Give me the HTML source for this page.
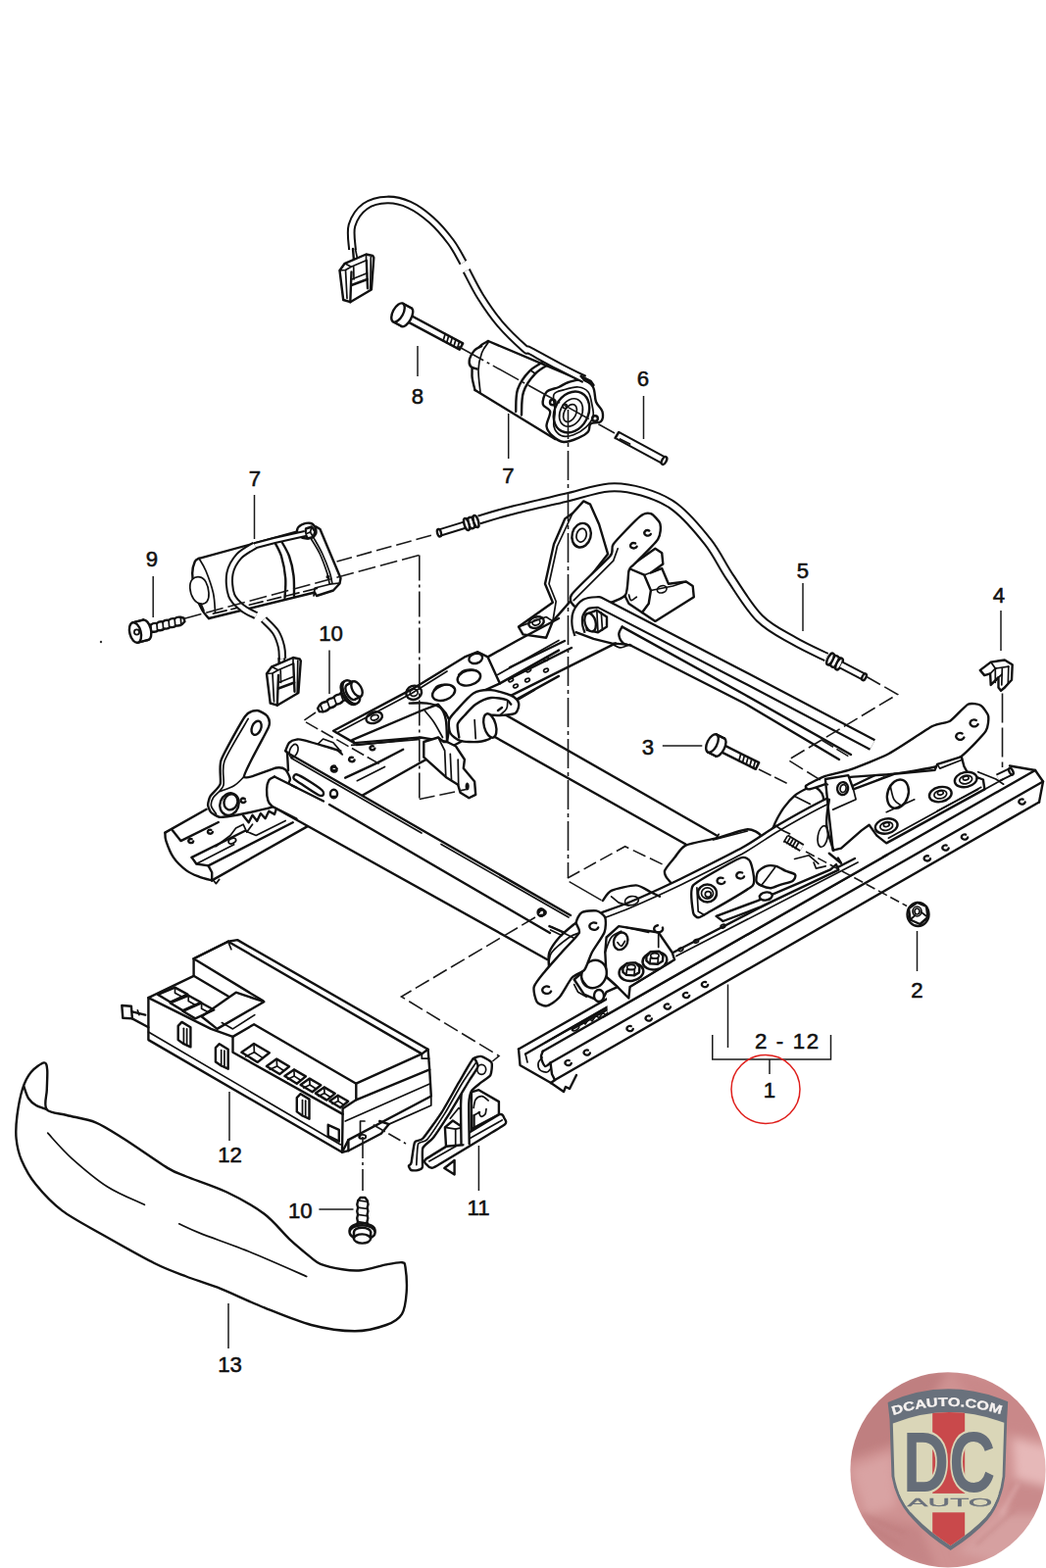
<!DOCTYPE html>
<html><head><meta charset="utf-8">
<style>
html,body{margin:0;padding:0;background:#fff;}
body{width:1067px;height:1600px;overflow:hidden;font-family:"Liberation Sans",sans-serif;}
svg{display:block;position:absolute;left:0;top:0;}
.l{fill:none;stroke:#111;stroke-width:2.4;stroke-linecap:round;stroke-linejoin:round;}
.w{fill:#fff;stroke:#111;stroke-width:2.4;stroke-linecap:round;stroke-linejoin:round;}
.t{fill:none;stroke:#111;stroke-width:1.7;stroke-linecap:round;stroke-linejoin:round;}
.wt{fill:#fff;stroke:#111;stroke-width:1.7;stroke-linecap:round;stroke-linejoin:round;}
.k{fill:#111;stroke:#111;stroke-width:1;stroke-linejoin:round;}
.ld{fill:none;stroke:#1a1a1a;stroke-width:1.5;}
.dd{fill:none;stroke:#1a1a1a;stroke-width:1.6;stroke-dasharray:24 4 3 4;}
.n{font-family:"Liberation Sans",sans-serif;font-size:22.2px;fill:#111;stroke:#111;stroke-width:0.55;text-anchor:middle;}
</style></head>
<body>
<svg width="1067" height="1600" viewBox="0 0 1067 1600">
<rect width="1067" height="1600" fill="#fff"/>
<g>
<defs><clipPath id="lc"><circle cx="967" cy="1499.8" r="99.8"/></clipPath><filter id="bl" x="-20%" y="-20%" width="140%" height="140%"><feGaussianBlur stdDeviation="5"/></filter><filter id="bl2" x="-20%" y="-20%" width="140%" height="140%"><feGaussianBlur stdDeviation="2"/></filter><filter id="bl1"><feGaussianBlur stdDeviation="0.6"/></filter></defs>
<mask id="lm"><circle cx="967" cy="1499.8" r="99.6" fill="#fff" filter="url(#bl1)"/></mask><g mask="url(#lm)">
<rect x="860" y="1395" width="210" height="210" fill="#cf9292"/>
<g filter="url(#bl)">
<path d="M860,1401.6 L968.6,1397.8 L918.2,1471.5 L860,1490.9 Z" fill="#bf7f80"/>
<path d="M968.6,1397.8 L1073.4,1419.1 L1073.4,1467.6 L1015.2,1459.8 Z" fill="#c98889"/>
<path d="M1032.6,1467.6 L1073.4,1477.3 L1073.4,1518 L1035.6,1508.3 Z" fill="#e6b8b8"/>
<path d="M867.8,1498.6 L910.4,1483.1 L914.3,1537.4 L883.3,1545.2 Z" fill="#d9a3a3"/>
<path d="M875.5,1545.2 L937.6,1556.8 L957,1603.4 L889.1,1584 Z" fill="#c58586"/>
<path d="M976.4,1584 L1034.6,1525.8 L1073.4,1525.8 L1054,1603.4 Z" fill="#d6a0a0"/>
<path d="M1030.7,1510.3 L1073.4,1518 L1073.4,1545.2 L1026.8,1545.2 Z" fill="#c98a8b"/>
</g>
<g filter="url(#bl2)" stroke="#b97475" stroke-width="2" fill="none" opacity="0.6">
<path d="M879.4,1545.2 L924,1564.6 M885.2,1556.8 L918.2,1576.2 M995.8,1576.2 L1034.6,1541.3"/>
<path d="M1021,1545.2 L1038.5,1514.2" stroke="#e8bcbc" stroke-width="3"/>
</g>
</g>
<g filter="url(#bl1)">
<path d="M905.6,1431.1 Q965.7,1404 1028.2,1430.2 L1027.2,1448.2 L1025.3,1506.4 Q1022,1533.5 1007.4,1551 Q993.9,1566.5 969.6,1582 Q945.4,1566.5 931.8,1551 Q914.3,1533.5 909.5,1506.4 L907.5,1448.2 Z" fill="#69717b"/>
<path d="M910.8,1452.5 Q966.7,1429.8 1024.3,1451.7 L1022.6,1506.4 Q1019.5,1531.6 1005.5,1548.1 Q991.9,1562.6 969.6,1577.2 Q947.3,1562.6 933.7,1548.1 Q916.6,1531.6 912.4,1506.4 Z" fill="#dad6b8"/>
<clipPath id="ic"><path d="M910.8,1452.5 Q966.7,1429.8 1024.3,1451.7 L1022.6,1506.4 Q1019.5,1531.6 1005.5,1548.1 Q991.9,1562.6 969.6,1577.2 Q947.3,1562.6 933.7,1548.1 Q916.6,1531.6 912.4,1506.4 Z"/></clipPath>
<g clip-path="url(#ic)"><rect x="951.2" y="1428.8" width="32.9777" height="155.189" fill="#c9484c"/></g>
<g clip-path="url(#ic)"><rect x="898.8" y="1523.9" width="139.67" height="19.3986" fill="#dad6b8"/></g>
<text x="921.1" y="1521.9" textLength="94.1" lengthAdjust="spacingAndGlyphs" font-family="Liberation Sans, sans-serif" font-weight="bold" font-size="88" fill="#dad6b8" stroke="#dad6b8" stroke-width="4.5" stroke-linejoin="round">DC</text>
<text x="921.1" y="1521.9" textLength="94.1" lengthAdjust="spacingAndGlyphs" font-family="Liberation Sans, sans-serif" font-weight="bold" font-size="88" fill="#656d78">DC</text>
<text x="925.6" y="1537.4" textLength="86.7119" lengthAdjust="spacingAndGlyphs" font-family="Liberation Sans, sans-serif" font-size="11.5" fill="#6a717b" stroke="#6a717b" stroke-width="0.3">AUTO</text>
<path id="arc" d="M911,1444 Q966.7,1425.5 1023,1444" fill="none"/>
<text font-family="Liberation Sans, sans-serif" font-weight="bold" font-size="12.5" fill="#f6f2f0" stroke="#f6f2f0" stroke-width="0.3" textLength="112" lengthAdjust="spacingAndGlyphs"><textPath href="#arc" textLength="112" lengthAdjust="spacingAndGlyphs">DCAUTO.COM</textPath></text>
</g>
</g>
<g>
<path class="w" d="M529,1070.5 L531,1088 L563,1106 L574,1114 L582,1103 L1060,818.5 L1064,797.5 L1056,786 L1030,780 L760,925 L640,1008Z" style="stroke:none"/>
<path class="l" d="M529,1070.5 L628,1014.2" />
<path class="l" d="M536,1075.5 L630,1021.5" />
<path class="t" d="M556,1064 L640,1016" />
<path class="l" d="M529,1070.5 L530.5,1087 L562,1105" />
<path class="t" d="M536,1075.5 L538,1084" />
<path class="l" d="M553.7,1072.7 C553.4,1073.8 551.6,1076.5 552,1079 C552.4,1081.5 554.4,1087.1 556,1088 C557.6,1088.9 560.6,1085.1 561.5,1084.5" />
<path class="t" d="M553,1079 C552.3,1080.0 549.3,1082.8 549,1085 C548.7,1087.2 549.5,1090.5 551,1092 C552.5,1093.5 556.2,1094.3 558,1094 C559.8,1093.7 561.3,1090.7 562,1090" />
<path class="l" d="M561.5,1084.5 L563,1096 L566,1102" />
<path class="l" d="M562,1105 L566,1102" />
<path class="l" d="M562,1105 L575,1114 L577,1109 L581,1111 L588,1097" />
<path class="l" d="M553.7,1072.7 L1056,786" />
<path class="l" d="M561.5,1084.5 L1064,797.5" />
<path class="l" d="M566,1102 L1060,818.5" />
<path class="l" d="M1056,786 L1064,797.5 L1060,818.5" />
<path class="l" d="M1056,786 L1030,781.5" />
<path class="t" d="M563,1060 L628,1024" />
<path class="l" d="M584,1050 L620,1030" />
<path class="t" d="M590,1047 l4,-5 l3,3 l4,-6 l3,3 l4,-6 l3,3 l4,-6 l3,3 l4,-6" />
<ellipse class="t" cx="587" cy="1049" rx="4" ry="2.2" transform="rotate(-30 587 1049)"/>
<path class="l" d="M582.8,1084.9 A3.2,2.6 0 1 1 580.7,1082.1" />
<path class="l" d="M601.9,1074.4 A3.2,2.6 0 1 1 599.8,1071.6" />
<path class="l" d="M645.8,1049.9 A3.2,2.6 0 1 1 643.7,1047.1" />
<path class="l" d="M664.9,1039.4 A3.2,2.6 0 1 1 662.8,1036.6" />
<path class="l" d="M684.0,1027.4 A3.2,2.6 0 1 1 681.9,1024.6" />
<path class="l" d="M703.2,1015.9 A3.2,2.6 0 1 1 701.1,1013.1" />
<path class="l" d="M722.2,1004.9 A3.2,2.6 0 1 1 720.1,1002.1" />
<path class="l" d="M949.0,876.2 A3.2,2.6 0 1 1 946.9,873.4" />
<path class="l" d="M967.7,865.4 A3.2,2.6 0 1 1 965.6,862.6" />
<path class="l" d="M987.2,854.4 A3.2,2.6 0 1 1 985.1,851.6" />
<path class="l" d="M1045.7,818.4 A3.2,2.6 0 1 1 1043.6,815.6" />
<ellipse class="t" cx="690" cy="968" rx="2.2" ry="1.5" transform="rotate(-30 690 968)"/>
<ellipse class="t" cx="675" cy="977" rx="2.2" ry="1.5" transform="rotate(-30 675 977)"/>
<ellipse class="t" cx="712" cy="960" rx="2.2" ry="1.5" transform="rotate(-30 712 960)"/>
</g>
<g>
<path class="w" d="M168.4,849.6 L210.6,825.8 L330,760 L600,640 L640,660 L430,782 L315.6,842.1 L216.2,898.4 L203.1,894.6 L190,888.1 L176.9,874.9 L169.4,858.1Z" style="stroke:none"/>
<path class="l" d="M168.4,849.6 L210.6,825.8" />
<path class="l" d="M168.4,849.6 C168.6,851.0 168.0,853.9 169.4,858.1 C170.8,862.3 173.5,869.9 176.9,874.9 C180.3,879.9 185.6,884.8 190,888.1 C194.4,891.4 198.7,892.9 203.1,894.6 C207.5,896.3 214.0,897.8 216.2,898.4" />
<path class="l" d="M175.9,847.2 L184.4,858.1 L222.8,839" />
<path class="l" d="M195.6,874.9 L200.3,881.5 L212.5,883.4 L216.2,890.3 L216.2,898.4" />
<path class="l" d="M195.6,874.9 L250,847.8" />
<path class="t" d="M200.3,881.5 L238.7,861.8" />
<path class="l" d="M212.5,883.4 L298.7,839.3" />
<path class="l" d="M216.2,898.4 L315.6,842.1 L431,777" />
<path class="t" d="M217.2,897.8 L220.4,901.6 L223.7,897.4" />
<path class="l" d="M197.2,858.4 A2.5,2.0 0 1 1 195.6,856.2" />
<path class="l" d="M216.9,849.0 A2.5,2.0 0 1 1 215.3,846.8" />
<path class="l" d="M248.1,832.2 L253.7,839.3 L257.5,831.8 L262.2,837.8 L265.9,830 L270.6,835.2 L274.3,827.7 L280,830.9 L282.2,824.7" />
<path class="t" d="M220,863.7 L235,852.5 L240.6,845 L248.1,841.2 L251.8,849.1 L257.5,841.2" />
<ellipse class="t" cx="236.9" cy="858.1" rx="4" ry="2.5" transform="rotate(-25 236.9 858.1)"/>
<path class="t" d="M250,847.8 L261.2,852.5 L291.2,837.5" />
<path class="l" d="M352.2,793.7 L385,778.4 L411.2,764.7" />
<path class="t" d="M364.3,796.7 L392.5,782.5" />
<path class="t" d="M358.7,760.4 L426.2,754.7" />
<path class="l" d="M431,777 L470,757" />
<path class="l" d="M520,681 L576,654" />
<path class="l" d="M520,692.4 L583,661" />
<path class="l" d="M520,710.4 L628,656.4" />
<path class="l" d="M528,714 L545,704" />
<ellipse class="t" cx="526" cy="700" rx="2.5" ry="1.6" transform="rotate(-28 526 700)"/>
<ellipse class="t" cx="538" cy="694" rx="2.5" ry="1.6" transform="rotate(-28 538 694)"/>
<ellipse class="t" cx="557" cy="684" rx="2.5" ry="1.6" transform="rotate(-28 557 684)"/>
<path class="w" d="M646,575.5 L668.4,559.7 L675.2,564.2 L676.3,575.5 L663.9,584.5 L675.2,580 L681.9,595.7 L699.9,593.5 L706.7,598 L707.8,609.2 L668.4,633.9 L655,625 L641.5,616 L637,607 L641.5,580Z" />
<path class="l" d="M641.5,580 L657.2,586.7 L663.9,602.5 L661.7,616 L655,625" />
<path class="t" d="M663.9,602.5 L686.4,598 L699.9,593.5" />
<path class="t" d="M657.2,586.7 L675.2,580" />
<ellipse class="t" cx="675.2" cy="601.3" rx="5" ry="3.5" transform="rotate(-20 675.2 601.3)"/>
<path class="t" d="M641.5,607 C641.9,607.9 642.4,612.2 643.7,612.6 C645.0,613.0 648.4,609.8 649.3,609.2" />
<path class="w" d="M584.1,523.7 L595.3,511.4 L602.1,514.7 L611.1,535 L620.1,565.3 L587.5,607 L563.9,633.9 L557.1,650.8 L533.5,647.4 L529,639.6 L563.9,614.8 L556,595.7 L565,555.2 L576.2,529.4Z" />
<path class="t" d="M584.1,523.7 L578.9,535 L568.4,557.5 L560,595.7 L567.2,613.7 L563.9,633.9" />
<ellipse class="l" cx="593.1" cy="546.2" rx="9.5" ry="12.5" transform="rotate(15 593.1 546.2)"/>
<ellipse class="t" cx="593.1" cy="546.2" rx="5" ry="7" transform="rotate(15 593.1 546.2)"/>
<ellipse class="l" cx="547" cy="635.1" rx="8" ry="5.5" transform="rotate(-20 547 635.1)"/>
<ellipse class="t" cx="547" cy="635.1" rx="4" ry="2.8" transform="rotate(-20 547 635.1)"/>
<path class="t" d="M529,639.6 L557.1,629.5 L563.9,633.9" />
<path class="w" d="M583,607 C586.8,600.8 617.3,573.6 622.3,567.6 C627.3,561.6 622.2,559.9 625.7,555.2 C629.2,550.5 648.2,530.7 652.7,527.1 C657.2,523.5 661.5,523.3 663.9,524.2 C666.3,525.1 672.6,531.5 673.4,534.5 C674.2,537.5 674.2,545.5 671.1,550.3 C668.0,555.1 650.6,571.8 647.1,575.5 C643.6,579.2 642.5,578.5 641.5,582.2 C640.5,585.9 640.7,603.1 638.1,607 C635.5,610.9 624.6,614.4 619,616 C613.4,617.6 593.9,621.5 589.7,620.5 C585.5,619.5 579.2,613.2 583,607Z" />
<path class="l" d="M663.8,544.9 A3.4,2.7 0 1 1 662.3,541.6" />
<path class="l" d="M649.6,557.7 A3.4,2.7 0 1 1 648.1,554.4" />
<path class="t" d="M585.2,612.6 L625.7,572.1 L630.2,559.7" />
<path d="M488.6,530.4 C493.8,528.9 505.4,525.1 520,521.4 C534.6,517.7 559.3,512.0 576.2,508 C593.1,504.0 608.1,498.4 621.2,497.4 C634.3,496.3 643.8,498.4 655,501.7 C666.2,505.0 677.5,508.8 688.7,517.4 C699.9,526.0 713.0,541.4 722.4,553.4 C731.8,565.4 736.1,576.5 744.9,589.4 C753.7,602.3 764.1,620.2 775,631 C785.9,641.8 798.7,647.4 810,654 C821.3,660.6 837.5,667.8 843,670.5" fill="none" stroke="#111" stroke-width="10.025" stroke-linecap="butt" stroke-linejoin="round"/>
<path d="M488.6,530.4 C493.8,528.9 505.4,525.1 520,521.4 C534.6,517.7 559.3,512.0 576.2,508 C593.1,504.0 608.1,498.4 621.2,497.4 C634.3,496.3 643.8,498.4 655,501.7 C666.2,505.0 677.5,508.8 688.7,517.4 C699.9,526.0 713.0,541.4 722.4,553.4 C731.8,565.4 736.1,576.5 744.9,589.4 C753.7,602.3 764.1,620.2 775,631 C785.9,641.8 798.7,647.4 810,654 C821.3,660.6 837.5,667.8 843,670.5" fill="none" stroke="#fff" stroke-width="5.975" stroke-linecap="butt" stroke-linejoin="round"/>
<path d="M448,543.7 L474,535.7" fill="none" stroke="#111" stroke-width="8.29" stroke-linecap="butt" stroke-linejoin="round"/>
<path d="M448,543.7 L474,535.7" fill="none" stroke="#fff" stroke-width="4.51" stroke-linecap="butt" stroke-linejoin="round"/>
<ellipse class="w" cx="448" cy="543.7" rx="1.9" ry="3.8" transform="rotate(-15 448 543.7)"/>
<path d="M476,535 L485.5,532" fill="none" stroke="#111" stroke-width="13.025" stroke-linecap="butt" stroke-linejoin="round"/>
<path d="M476,535 L485.5,532" fill="none" stroke="#fff" stroke-width="8.975" stroke-linecap="butt" stroke-linejoin="round"/>
<ellipse class="w" cx="476" cy="535" rx="2.4" ry="6.3" transform="rotate(-17 476 535)"/>
<ellipse class="w" cx="485.5" cy="532" rx="2.4" ry="6.3" transform="rotate(-17 485.5 532)"/>
<ellipse class="t" cx="480.7" cy="533.5" rx="2.4" ry="6.3" transform="rotate(-17 480.7 533.5)"/>
<path d="M847,672.5 L856,677.5" fill="none" stroke="#111" stroke-width="13.525" stroke-linecap="butt" stroke-linejoin="round"/>
<path d="M847,672.5 L856,677.5" fill="none" stroke="#fff" stroke-width="9.475" stroke-linecap="butt" stroke-linejoin="round"/>
<ellipse class="w" cx="847" cy="672.5" rx="2.6" ry="6.5" transform="rotate(27 847 672.5)"/>
<ellipse class="w" cx="856" cy="677.5" rx="2.6" ry="6.5" transform="rotate(27 856 677.5)"/>
<ellipse class="t" cx="851.5" cy="675" rx="2.6" ry="6.5" transform="rotate(27 851.5 675)"/>
<path d="M858,678.5 L881,690.5" fill="none" stroke="#111" stroke-width="8.29" stroke-linecap="butt" stroke-linejoin="round"/>
<path d="M858,678.5 L881,690.5" fill="none" stroke="#fff" stroke-width="4.51" stroke-linecap="butt" stroke-linejoin="round"/>
<ellipse class="w" cx="881.5" cy="690.8" rx="1.9" ry="3.6" transform="rotate(27 881.5 690.8)"/>
<path class="w" d="M634.7,639.6 L760,708 L868,770 L856,775 L760,718 L643.7,658.7Z" style="stroke:none"/>
<path class="l" d="M634.7,639.6 L760,709 L868,770" />
<path class="l" d="M643.7,658.7 L760,718 L856,775" />
<path class="l" d="M634.7,639.6 C634.1,640.9 631.1,644.6 631.3,647.4 C631.5,650.2 633.7,654.5 635.8,656.4 C637.9,658.3 642.4,658.3 643.7,658.7" />
<path class="l" d="M591.5,647.4 C591.0,645.7 589.1,640.8 588.8,637.3 C588.5,633.8 588.2,629.6 589.7,626.1 C591.2,622.6 594.0,618.4 597.6,616.4 C601.2,614.4 608.9,614.7 611.1,614.4 L760,691.5 L890,760" style="stroke-width:12.8;stroke-linejoin:round;stroke-linecap:butt"/>
<path class="l" d="M591.5,647.4 C591.0,645.7 589.1,640.8 588.8,637.3 C588.5,633.8 588.2,629.6 589.7,626.1 C591.2,622.6 594.0,618.4 597.6,616.4 C601.2,614.4 608.9,614.7 611.1,614.4 L760,691.5 L890,760" style="stroke-width:8.4;stroke:#fff;stroke-linejoin:round;stroke-linecap:butt"/>
<path class="w" d="M597.6,627.2 L608.8,622.7 L619,629.5 L619,639.6 L610,645.2 L598.7,642.9Z" />
<ellipse class="w" cx="602.1" cy="635.1" rx="5.5" ry="9.5" transform="rotate(-15 602.1 635.1)"/>
<path class="t" d="M608.8,622.7 L610,645.2" />
<path class="t" d="M613.3,625 L614.5,642.9" />
<path class="l" d="M587.5,645.2 L605.5,651.9 L623.5,656.4 L639.2,657.6" />
<path class="t" d="M623.5,656.4 C625.0,657.1 629.3,660.7 632.5,660.9 C635.7,661.1 640.9,658.1 642.6,657.6" />
<path class="w" d="M340.1,745.7 L420,703.4 L473.9,670.4 L487.4,665.2 L497.6,670.4 L509.9,697.4 L487.4,707.5 L465,730 L459.3,736.7 L456,757 L429,752.5 L361.5,758.1Z" />
<path class="t" d="M343.5,748 L420,707.5 L456,685" />
<path class="l" d="M361.5,758.1 L359.2,755.2 L429,725.5 L447,718.7 L454.8,727.7 L459.3,736.7" />
<path class="t" d="M363.7,760.3 L397.5,757 L415.5,754.7" />
<ellipse class="l" cx="381.7" cy="732.2" rx="8.5" ry="5.5" transform="rotate(-20 381.7 732.2)"/>
<ellipse class="t" cx="382.2" cy="732.2" rx="4" ry="2.6" transform="rotate(-20 382.2 732.2)"/>
<ellipse class="l" cx="422.2" cy="706.8" rx="8" ry="7" transform="rotate(-20 422.2 706.8)"/>
<ellipse class="t" cx="422.2" cy="706.8" rx="4" ry="3.5" transform="rotate(-20 422.2 706.8)"/>
<ellipse class="l" cx="452.6" cy="706.8" rx="12" ry="7.5" transform="rotate(-20 452.6 706.8)"/>
<ellipse class="l" cx="478.4" cy="691.7" rx="12" ry="7.5" transform="rotate(-15 478.4 691.7)"/>
<ellipse class="l" cx="485.2" cy="671.9" rx="7" ry="5" transform="rotate(-15 485.2 671.9)"/>
<path class="t" d="M442.5,704.1 C443.2,703.4 444.4,700.5 447,699.6 C449.6,698.7 455.4,698.3 458.2,698.9 C461.0,699.5 462.9,702.3 463.8,703" />
<path class="t" d="M467.7,688.4 C468.7,687.6 471.0,684.6 473.9,683.9 C476.8,683.1 482.5,683.1 485.2,683.9 C487.9,684.6 489.3,687.6 490.1,688.4" />
<path class="l" d="M382.4,763.6 A2.5,2.0 0 1 1 380.8,761.4" />
<path class="l" d="M361.6,775.4 A2.8,2.2 0 1 1 359.8,772.9" />
<path class="l" d="M343.8,784.3 A3.0,2.4 0 1 1 341.8,781.6" />
<path class="l" d="M497.6,670.4 L527.9,653.5 L570,631" />
<path class="l" d="M509.9,697.4 L570,663.6" />
<path class="t" d="M507.7,688.4 L570,653.5" />
<path class="l" d="M527.9,713.1 L570,689.9" />
<ellipse class="t" cx="521.2" cy="694" rx="2.5" ry="1.5" transform="rotate(-28 521.2 694)"/>
<ellipse class="t" cx="539.2" cy="683.9" rx="2.5" ry="1.5" transform="rotate(-28 539.2 683.9)"/>
<ellipse class="t" cx="557.2" cy="672.6" rx="2.5" ry="1.5" transform="rotate(-28 557.2 672.6)"/>
<path class="w" d="M432.3,757 L447,752.5 L452.6,757 L456,757 L465,761.5 L473.9,775 L472.8,783.9 L484.1,797.4 L485.2,810.9 L478.4,814.3 L469.5,808.7 L467.2,800.8 L454.8,792.9 L432.3,772.7Z" />
<path class="t" d="M447,752.5 L453.7,766 L454.8,792.9" />
<path class="t" d="M459.3,769.3 L460.5,795.2" />
<path class="t" d="M467.2,775 L467.7,800.8" />
<ellipse class="k" cx="476.6" cy="802.4" rx="1.6" ry="3.5" transform="rotate(0 476.6 802.4)"/>
<path class="t" d="M433.5,725.5 C435.0,727.4 439.5,732.2 442.5,736.7 C445.5,741.2 450.0,749.9 451.5,752.5" />
<path class="l" d="M417.7,717.6 C420.7,717.6 430.4,716.9 435.7,717.6 C440.9,718.4 446.0,719.3 449.2,722.1 C452.4,724.9 453.7,728.7 454.8,734.5 C455.9,740.3 455.8,753.2 456,757" />
<path class="w" d="M508,725 L731,852.5 L699.5,861.5 L503,751Z" style="stroke:none"/>
<path class="l" d="M508,725 L731,852.5" />
<path class="l" d="M503,751 L699.5,861.5" />
<path class="w" d="M458.2,734.5 C459.0,731.5 461.7,729.1 465,725.5 C468.3,721.9 478.1,710.4 482.9,707.5 C487.7,704.6 495.8,703.8 500.9,704.1 C506.0,704.4 517.4,707.9 521.2,709.7 C525.0,711.5 528.5,715.2 529.1,717.6 C529.7,720.0 528.3,726.0 525.7,727.7 C523.1,729.4 513.6,729.7 509.9,730 C506.2,730.3 499.5,728.8 497.6,730 C495.7,731.2 494.9,736.0 495.3,739 C495.7,742.0 502.0,750.1 500.9,752.5 C499.8,754.9 491.6,756.6 487.4,757 C483.2,757.4 473.2,757.0 469.5,755.8 C465.8,754.6 460.8,750.8 459.3,748 C457.8,745.2 457.4,737.5 458.2,734.5Z" />
<path class="l" d="M468.3,752.5 C468.1,750.7 466.1,742.0 466.8,739 C467.5,736.0 471.4,732.7 473.9,730 C476.4,727.3 481.6,721.1 485.2,718.7 C488.8,716.3 496.7,712.6 500.9,712 C505.1,711.4 514.0,713.3 516.7,714.2 C519.4,715.1 520.6,718.1 521.2,718.7" />
<path class="t" d="M509.9,730 C511.0,728.9 515.4,725.7 516.7,723.2 C518.0,720.8 517.6,716.6 517.8,715.3" />
<path class="t" d="M484.1,734.5 L485.2,753.6" />
<ellipse class="w" cx="499.8" cy="740.5" rx="6" ry="12.5" transform="rotate(-15 499.8 740.5)"/>
<path class="l" d="M508,725 L512,722" />
<path class="w" d="M681.5,897.4 C679.5,895.8 677.3,891.0 678.1,888.4 C678.9,885.8 685.7,878.0 688.2,875 C690.7,872.0 694.5,864.9 699.5,862.6 C704.5,860.3 723.6,857.1 730.9,855.2 C738.2,853.3 757.1,846.5 762.4,846.2 C767.6,845.9 774.9,850.2 775.9,852.5 C776.9,854.8 780.8,860.2 771.4,866 C762.0,871.8 705.5,898.2 695,901.9 C684.5,905.6 683.5,899.0 681.5,897.4Z" />
<path class="t" d="M730.9,855.2 L733.2,851.3" />
<path class="t" d="M727.6,857 L762.4,848" />
<path class="w" d="M293,768 L582,934 L570,965 L558,979 L277,822.5 L272.1,805.6 L280,792.5 L294,785Z" style="stroke:none"/>
<path class="l" d="M293,768 L582,934" />
<path class="t" d="M297,773.5 L430,850" />
<path class="t" d="M450,861.5 L580,936" />
<path class="l" d="M293,768 L294,786" />
<path class="l" d="M280,792.5 L330,817.5" />
<path class="l" d="M336,821 L561,952" />
<path class="l" d="M277.2,822.5 L558,979" />
<path class="l" d="M280,792.5 C279.1,793.1 275.6,794.0 274.3,796.2 C273.0,798.4 272.2,802.2 272.1,805.6 C272.0,809.0 272.5,814.0 273.4,816.8 C274.2,819.6 276.6,821.5 277.2,822.5" />
<path class="l" d="M302.5,790.2 C304.6,790.6 312.1,795.0 315.6,797.2 C319.1,799.4 326.8,804.6 328.7,806.5 C330.6,808.4 330.1,810.6 329.6,811.2 C329.1,811.8 327.5,812.5 324.9,811.2 C322.3,809.9 313.4,804.1 310,801.8 C306.6,799.5 300.6,795.8 299.6,794.3 C298.6,792.8 300.4,789.8 302.5,790.2Z" />
<ellipse class="l" cx="340.5" cy="810" rx="3.6" ry="4.2" transform="rotate(0 340.5 810)"/>
<path class="t" d="M338.5,812.5 L342.5,812.5" />
<ellipse class="l" cx="552" cy="931" rx="3.4" ry="3.8" transform="rotate(0 552 931)"/>
<path class="t" d="M563,946 L585,957" />
<path class="w" d="M250,731 C253.7,725.9 259.9,725.0 262.2,725 C264.4,725.0 271.3,728.9 272.5,730.6 C273.7,732.3 276.4,735.7 274,741.9 C271.6,748.1 248.2,788.3 249,792.5 C249.8,796.7 277.6,784.2 281.8,783.5 C286.0,782.8 289.8,784.2 291.2,785.4 C292.6,786.6 296.1,793.1 295.9,795.3 C295.7,797.5 290.9,804.8 289.3,807.5 C287.7,810.2 283.9,820.2 280,822.5 C276.1,824.8 254.5,829.0 250,830 C245.5,831.0 237.6,832.4 235,832.8 C232.4,833.2 225.7,834.1 223.7,833.7 C221.7,833.3 216.5,830.2 215.3,829 C214.1,827.8 212.2,823.2 212.1,821.5 C212.0,819.8 213.4,814.4 214.7,812.2 C216.0,810.1 223.6,803.7 224.7,800 C225.8,796.3 223.1,782.5 225.6,775.6 C228.1,768.7 246.3,736.1 250,731Z" />
<path class="w" d="M280,792.5 C277.9,792.1 275.1,794.9 274.3,796.2 C273.5,797.5 272.2,803.5 272.1,805.6 C272.0,807.7 272.9,815.1 273.4,816.8 C273.9,818.5 275.4,821.2 277.2,822.5 C279.0,823.8 288.7,830.8 291.2,830 C293.7,829.2 302.1,818.0 302.5,815 C302.9,812.0 297.2,802.2 295,800 C292.8,797.8 282.1,792.9 280,792.5Z" style="stroke:none"/>
<path class="l" d="M280,792.5 C279.1,793.1 275.6,794.0 274.3,796.2 C273.0,798.4 272.2,802.2 272.1,805.6 C272.0,809.0 272.5,814.0 273.4,816.8 C274.2,819.6 276.6,821.5 277.2,822.5" />
<path class="l" d="M280,792.5 L302.5,803.7" />
<path class="l" d="M277.2,822.5 L302.5,835.6" />
<path class="t" d="M253.2,733.4 C250.0,739.1 232.4,767.4 229,776.5 C225.6,785.6 229.4,796.5 227.9,801.5 C226.4,806.5 219.2,811.2 217.5,814 C215.8,816.8 215.1,820.3 215.5,822.5 C215.9,824.7 219.7,829.3 220.4,830.3" />
<ellipse class="l" cx="261.6" cy="742.8" rx="4.6" ry="7.4" transform="rotate(22 261.6 742.8)"/>
<ellipse class="l" cx="234" cy="820.6" rx="9.5" ry="11.5" transform="rotate(20 234 820.6)"/>
<ellipse class="l" cx="235.4" cy="818.3" rx="6.8" ry="8.2" transform="rotate(20 235.4 818.3)"/>
<path class="t" d="M224.7,807.5 C227.0,806.5 234.6,804.3 238.7,801.8 C242.8,799.3 247.3,794.0 249,792.5" />
<path class="l" d="M250.4,817.8 A2.6,2.1 0 1 1 249.8,815.2" />
<path class="l" d="M291.2,766.2 C291.7,765.1 293.5,759.3 295,757.8 C296.5,756.3 300.5,754.9 302.5,754.6 C304.5,754.3 304.0,753.9 310,755.4 C316.0,756.9 342.4,764.8 347.4,766.2" />
<path class="l" d="M291.2,766.2 L293.5,768.1" />
<ellipse class="t" cx="299.6" cy="766.2" rx="4" ry="7" transform="rotate(20 299.6 766.2)"/>
<path class="t" d="M324.9,758.7 L329.6,754 L339.9,757.8 L345.6,764.4 L349.3,770 L344.6,766.2" />
<path class="l" d="M343.5,786.2 A3.0,2.4 0 1 1 342.8,783.2" />
<path class="w" d="M786.2,854.5 C780.1,854.7 788.2,846.2 789.1,843.6 C790.0,841.0 791.6,837.6 793,835 C794.4,832.4 797.3,827.2 799.6,824.1 C801.9,821.0 807.7,814.4 810.6,811.9 C813.5,809.4 818.9,806.6 821.5,805.3 C824.1,804.0 827.7,801.4 830.1,802.4 C832.5,803.4 839.2,807.8 839.8,813.1 C840.4,818.4 842.0,836.8 834.9,842.3 C827.8,847.8 792.3,854.3 786.2,854.5Z" />
<path class="t" d="M810.6,812.6 L826.4,820.4" />
<path class="w" d="M614,931 L640,921.5 L688.7,899.5 L757,865 L791,843.5 L835,819 L900,787.5 L900,875 L620,1034.9Z" style="stroke:none"/>
<path class="l" d="M614,931 C616.6,930.0 632.5,924.6 640,921.5 C647.5,918.4 677.0,905.1 688.7,899.5 C700.4,893.9 746.8,870.6 757,865 C767.2,859.4 783.2,848.1 791,843.5 C798.8,838.9 824.1,824.6 835,819 C845.9,813.4 893.5,790.6 900,787.5" />
<path class="l" d="M615,1037.7 L905,872.2" />
<path class="t" d="M618,936 C620.4,935.1 634.3,930.1 641.5,927 C648.7,923.9 678.5,910.6 690.2,905 C701.9,899.4 748.3,876.1 758.5,870.5 C768.7,864.9 784.7,853.6 792.5,849 C800.3,844.4 825.6,830.1 836.5,824.5 C847.4,818.9 895.0,796.1 901.5,793" />
<path class="l" d="M687,971.7 L872,876" />
<path class="t" d="M690,975.5 L875,880" />
<path class="l" d="M614.8,919.1 C615.8,917.9 619.6,910.7 623.6,908.9 C627.6,907.1 644.2,903.2 648.9,903.4 C653.6,903.6 661.3,909.2 664.1,910.5 C666.9,911.8 672.0,914.3 673,914.8" />
<ellipse class="t" cx="644.4" cy="919.1" rx="7" ry="4.5" transform="rotate(-10 644.4 919.1)"/>
<path class="t" d="M623.6,914.8 L631.2,921.1 L641.3,924.1" />
<path class="w" d="M822.5,801.5 C824.2,800.1 837.4,793.5 841.9,791.9 C846.4,790.3 861.4,787.4 867.9,785.1 C874.4,782.8 898.5,773.4 906.8,769 C915.1,764.6 944.8,744.3 951,741 C957.2,737.7 965.5,738.0 969.1,735.8 C972.7,733.6 984.2,720.3 987.3,718.7 C990.4,717.1 998.2,718.5 1000.3,719.7 C1002.4,720.9 1007.6,728.0 1008.1,730.6 C1008.6,733.2 1008.2,742.1 1005.5,746.2 C1002.8,750.3 985.7,768.0 980.8,771.6 C975.9,775.2 963.0,780.2 956.1,782 C949.2,783.8 920.8,788.7 912,789.8 C903.2,790.9 874.9,791.9 867.9,792.9 C860.9,793.9 846.2,799.0 841.9,800.2 C837.6,801.5 826.9,805.3 825,805.4 C823.1,805.5 820.8,802.9 822.5,801.5Z" />
<path class="l" d="M997.7,739.0 A4.2,3.4 0 1 1 995.9,735.0" />
<path class="l" d="M983.4,752.5 A4.2,3.4 0 1 1 981.6,748.5" />
<path class="w" d="M841.9,795 L865.3,791.1 L870.5,805.4 L912,789.8 L953.6,785.9 L956.1,779.9 L980.8,772.1 L983.4,782 L987.8,789.8 L1002.9,795.5 L1004.4,805.4 L904.2,860.4 L894.4,852.6 L886.6,841.7 L878.8,847.4 L858,865.6 L849.7,867.7 L845,826.1Z" />
<path class="t" d="M956.1,779.9 L958.7,784.1 L980.8,775.5" />
<path class="t" d="M870.5,805.4 L873.1,815.8 L849.7,826.1" />
<path class="t" d="M906.3,855.2 L1000.8,803.3" />
<path class="t" d="M904.2,828.7 L932.8,815.8" />
<path class="t" d="M956.1,827.4 L997.7,805.4" />
<ellipse class="l" cx="915.9" cy="810.1" rx="10.5" ry="15" transform="rotate(18 915.9 810.1)"/>
<path class="t" d="M908.1,801.5 C908.8,803.9 910.0,812.3 912,815.8 C914.0,819.3 918.5,821.2 919.8,822.3" />
<ellipse class="l" cx="859.6" cy="804.6" rx="5.5" ry="6.5" transform="rotate(10 859.6 804.6)"/>
<ellipse class="t" cx="860.1" cy="804.6" rx="3" ry="4" transform="rotate(10 860.1 804.6)"/>
<ellipse class="w" cx="959.3" cy="810.6" rx="11.5" ry="7.5" transform="rotate(-12 959.3 810.6)"/>
<ellipse class="t" cx="959.3" cy="810.6" rx="6.5" ry="4.2" transform="rotate(-12 959.3 810.6)"/>
<ellipse class="t" cx="959.3" cy="809.1" rx="3" ry="2" transform="rotate(-12 959.3 809.1)"/>
<ellipse class="w" cx="985.2" cy="795.5" rx="11.5" ry="7.5" transform="rotate(-12 985.2 795.5)"/>
<ellipse class="t" cx="985.2" cy="795.5" rx="6.5" ry="4.2" transform="rotate(-12 985.2 795.5)"/>
<ellipse class="t" cx="985.2" cy="794" rx="3" ry="2" transform="rotate(-12 985.2 794)"/>
<ellipse class="w" cx="904.2" cy="843" rx="11.5" ry="7.5" transform="rotate(-12 904.2 843)"/>
<ellipse class="t" cx="904.2" cy="843" rx="6.5" ry="4.2" transform="rotate(-12 904.2 843)"/>
<ellipse class="t" cx="904.2" cy="841.5" rx="3" ry="2" transform="rotate(-12 904.2 841.5)"/>
<path d="M1017.9,793.7 L1031.4,787.2" fill="none" stroke="#111" stroke-width="8.89" stroke-linecap="butt" stroke-linejoin="round"/>
<path d="M1017.9,793.7 L1031.4,787.2" fill="none" stroke="#fff" stroke-width="5.11" stroke-linecap="butt" stroke-linejoin="round"/>
<ellipse class="w" cx="1031.4" cy="787.2" rx="1.8" ry="3.6" transform="rotate(-27 1031.4 787.2)"/>
<path class="t" d="M997.7,787.7 L1015.9,795 L1023.6,800.2" />
<path class="t" d="M1004.4,805.4 L1023.6,795" />
<path d="M801.7,855.2 L818,865.1" fill="none" stroke="#111" stroke-width="8.89" stroke-linecap="butt" stroke-linejoin="round"/>
<path d="M801.7,855.2 L818,865.1" fill="none" stroke="#fff" stroke-width="5.11" stroke-linecap="butt" stroke-linejoin="round"/>
<path class="t" d="M803,853.4 L799.8,858.9" />
<path class="t" d="M805.8,855.1 L802.6,860.6" />
<path class="t" d="M808.7,856.8 L805.5,862.3" />
<path class="t" d="M811.5,858.5 L808.3,864" />
<path class="t" d="M814.4,860.2 L811.2,865.7" />
<path class="t" d="M790,841.7 C791.3,842.6 795.2,845.4 797.8,846.9 C800.4,848.4 804.3,850.1 805.6,850.8" />
<ellipse class="t" cx="839.3" cy="853.4" rx="5" ry="11" transform="rotate(10 839.3 853.4)"/>
<path class="l" d="M845.8,815.8 C845.4,820.1 842.5,833.1 843.2,841.7 C843.9,850.4 849.0,863.4 850.2,867.7" />
<path class="l" d="M845.8,870.8 L858,880.7 L854.9,875.5" />
<path class="w" d="M707.1,903.4 C711.1,898.8 750.4,877.5 755.2,875.5 C760.1,873.5 764.2,877.0 765.3,879.3 C766.4,881.6 771.5,899.1 767.9,903.4 C764.3,907.7 726.9,928.5 722.3,931.2 C717.7,933.9 713.5,936.3 712.2,936.3 C710.9,936.3 707.5,933.9 707.1,931.2 C706.7,928.5 703.1,908.0 707.1,903.4Z" />
<path class="t" d="M710.9,905.9 L712.2,929.9 L718.5,933.7" />
<ellipse class="l" cx="721.5" cy="911.5" rx="9.5" ry="9" transform="rotate(0 721.5 911.5)"/>
<ellipse class="t" cx="721.5" cy="911.5" rx="6" ry="5.6" transform="rotate(0 721.5 911.5)"/>
<ellipse class="t" cx="722.3" cy="912.5" rx="3" ry="2.8" transform="rotate(0 722.3 912.5)"/>
<path class="l" d="M739.3,899.9 A4.0,3.2 0 1 1 737.5,896.0" />
<path class="l" d="M759.0,894.4 A4.0,3.2 0 1 1 757.2,890.5" />
<path class="w" d="M730.6,934.9 L772.8,919.1 L847.1,887.4 L853,882.1 L855.4,887.7 L776.5,925.2 L737.5,940Z" />
<path class="w" d="M771.6,899.6 C771.1,897.8 771.7,892.0 773,889.9 C774.3,887.8 778.8,884.6 781.3,883.8 C783.8,883.0 788.9,883.2 791.6,883.8 C794.3,884.4 798.7,887.4 801.3,888.6 C803.9,889.8 810.1,891.1 811.1,892.5 C812.1,893.9 810.6,897.5 808.6,898.9 C806.6,900.3 798.9,901.8 795.9,902.8 C792.9,903.8 788.8,906.1 786.2,906.2 C783.6,906.3 778.4,904.6 776.5,903.7 C774.6,902.8 772.1,901.4 771.6,899.6Z" />
<path class="t" d="M776.5,903.7 C777.5,902.4 780.0,899.2 782.5,895.9 C785.0,892.6 790.1,885.8 791.6,883.8" />
<ellipse class="w" cx="781.3" cy="914.5" rx="6.5" ry="4" transform="rotate(-10 781.3 914.5)"/>
<path class="t" d="M810.6,876.5 L825.2,872.8 L834.9,881.3" />
<path class="t" d="M830.1,880.1 L832.5,886.2 L842.2,883.8" />
<path class="w" d="M618.6,956.5 L631.2,945.1 L671.7,951.5 L685.6,971.7 L688.1,979.3 L642.6,1007.1 L641.3,1018.5 L629.9,1007.1 L618.6,997 L617.3,971.7Z" />
<path class="t" d="M642.6,1007.1 L684.4,981.8" />
<path class="t" d="M617.3,971.7 C618.3,969.2 620.9,960.1 623.6,956.5 C626.3,952.9 632.0,951.2 633.7,950.2" />
<ellipse class="l" cx="633.2" cy="960.3" rx="7" ry="9" transform="rotate(20 633.2 960.3)"/>
<path class="t" d="M629.9,961.6 C630.5,962.2 632.4,965.6 633.7,965.4 C635.0,965.2 636.9,961.1 637.5,960.3" />
<path class="t" d="M638.8,946.4 L661.6,951.5" />
<path class="l" d="M675.9,946.5 A4.5,3.6 0 1 1 670.9,944.2" />
<path class="t" d="M671.7,952.7 L671.7,966.6" />
<ellipse class="w" cx="643.9" cy="991.9" rx="12.5" ry="9" transform="rotate(-10 643.9 991.9)"/>
<path class="w" d="M635.4,987.9 L639.4,982.9 L648.4,982.4 L652.4,986.9 L651.9,992.4 L646.9,995.4 L638.9,994.9 L635.4,991.9Z" />
<ellipse class="t" cx="643.9" cy="986.9" rx="4.2" ry="2.6" transform="rotate(0 643.9 986.9)"/>
<path class="t" d="M638.9,994.9 L639.4,989.4 L647.4,989.4 L646.9,995.4" />
<ellipse class="w" cx="667.9" cy="980.3" rx="12.5" ry="9" transform="rotate(-10 667.9 980.3)"/>
<path class="w" d="M659.4,976.3 L663.4,971.3 L672.4,970.8 L676.4,975.3 L675.9,980.8 L670.9,983.8 L662.9,983.3 L659.4,980.3Z" />
<ellipse class="t" cx="667.9" cy="975.3" rx="4.2" ry="2.6" transform="rotate(0 667.9 975.3)"/>
<path class="t" d="M662.9,983.3 L663.4,977.8 L671.4,977.8 L670.9,983.8" />
<ellipse class="t" cx="694.5" cy="968.7" rx="2.4" ry="1.7" transform="rotate(-25 694.5 968.7)"/>
<ellipse class="t" cx="710.2" cy="960.3" rx="2.4" ry="1.7" transform="rotate(-25 710.2 960.3)"/>
<ellipse class="t" cx="737.5" cy="945.1" rx="2.4" ry="1.7" transform="rotate(-25 737.5 945.1)"/>
<path class="w" d="M585.7,999.5 L595.8,1014.7 L613.5,1022.3 L618.6,1012.2 L629.9,1007.1 L618.6,997 L605.9,981.8Z" />
<ellipse class="w" cx="605.9" cy="994" rx="12.5" ry="14.5" transform="rotate(25 605.9 994)"/>
<path class="t" d="M596.3,984.4 C595.8,986.5 592.8,993.2 593.3,997 C593.8,1000.8 598.5,1005.4 599.6,1007.1" />
<ellipse class="w" cx="611" cy="1016" rx="5" ry="6" transform="rotate(0 611 1016)"/>
<path class="t" d="M585.7,1004.6 L589.5,1012.2 L598.3,1017.2" />
<path class="w" d="M593.3,931.2 C595.7,929.8 605.6,928.8 608.4,929.4 C611.2,930.0 616.4,933.7 617.3,936.3 C618.2,938.9 618.1,947.4 616.5,951.5 C614.9,955.6 606.3,967.3 603.9,971.7 C601.5,976.1 598.7,986.4 596.3,989.4 C593.9,992.4 586.6,994.2 583.6,997.5 C580.6,1000.8 573.5,1014.4 570.5,1017.8 C567.5,1021.2 560.5,1025.9 557.8,1026.4 C555.1,1026.9 549.2,1024.6 547.7,1022.3 C546.2,1020.0 543.8,1010.6 544.7,1007.1 C545.6,1003.6 552.0,996.0 555.3,991.9 C558.6,987.8 568.9,976.4 573,971.7 C577.1,967.0 589.0,955.5 590.7,952 C592.4,948.5 587.4,943.7 587.7,941.3 C588.0,938.9 590.9,932.6 593.3,931.2Z" />
<path class="l" d="M610.2,946.4 A4.6,3.7 0 1 1 608.2,941.9" />
<path class="l" d="M562.1,1011.5 A4.6,3.7 0 1 1 560.1,1007.0" />
<path class="t" d="M590.7,952 C589.0,952.8 585.2,953.2 580.6,956.5 C576.0,959.8 566.4,967.1 562.9,971.7 C559.4,976.4 560.4,982.3 559.9,984.4" />
<path class="l" d="M587.7,941.3 C584.8,943.8 575.0,951.4 570.5,956.5 C566.0,961.6 562.2,966.9 560.4,971.7 C558.6,976.6 560.0,983.3 559.9,985.6" />
<path class="l" d="M560.4,945.1 L575.5,951.5" />
<path class="t" d="M561.6,948.9 L573,954.5" />
<path class="l" d="M550.0,930.7 A3.4,2.7 0 1 1 552.1,933.8" />
</g>
<g>
<path class="w" d="M416.516,320.542 L472.198,350.326 L468.802,356.674 L413.12,326.891Z" />
<path class="t" d="M454.138,340.666 L452.065,347.722" />
<path class="t" d="M457.75,342.598 L455.677,349.654" />
<path class="t" d="M461.362,344.53 L459.289,351.586" />
<path class="t" d="M464.974,346.462 L462.901,353.518" />
<path class="t" d="M468.586,348.394 L466.513,355.45" />
<path class="w" d="M410.952,309.741 L419.77,314.458 L409.865,332.975 L401.048,328.259Z" />
<ellipse class="w" cx="414.818" cy="323.717" rx="4.62" ry="10.5" transform="rotate(28.1416 414.818 323.717)"/>
<path d="M410.575,310.447 L419.393,315.163 L410.243,332.27 L401.425,327.553 Z" fill="#fff" stroke="none"/>
<path class="l" d="M410.952,309.741 L419.77,314.458" />
<path class="l" d="M401.048,328.259 L409.865,332.975" />
<ellipse class="w" cx="406" cy="319" rx="5.25" ry="10.5" transform="rotate(28.1416 406 319)"/>
<path class="w" d="M498,348 L593,388.2 L566.2,448 L484.5,398 L484.5,398 C484.0,395.6 481.8,388.9 481.5,383.8 C481.2,378.7 481.8,372.4 483,367.5 C484.2,362.6 486.3,357.4 488.8,354.2 C491.3,350.9 496.5,349.0 498,348Z" style="stroke:none"/>
<path class="l" d="M498,348 L593,388.2" />
<path class="l" d="M484.5,398 L566.2,448" />
<path class="l" d="M484.5,398 C484.0,395.6 481.8,388.9 481.5,383.8 C481.2,378.7 481.8,372.4 483,367.5 C484.2,362.6 486.3,357.4 488.8,354.2 C491.3,350.9 496.5,349.0 498,348" />
<path class="w" d="M491.2,353.2 C490.0,353.9 486.0,355.3 484,357.5 C482.0,359.7 479.7,363.5 479,366.2 C478.3,368.9 478.8,372.1 480,373.8 C481.2,375.5 485.4,376.1 486.5,376.5" />
<path class="t" d="M498,349.5 C496.9,351.2 493.2,355.3 491.5,360 C489.8,364.7 488.2,370.8 488,377.5 C487.8,384.2 489.7,396.7 490,400.5" />
<path class="l" d="M557.5,367.5 C554.6,369.4 544.9,373.8 540,378.8 C535.1,383.8 530.3,390.6 528,397.5 C525.7,404.4 526.5,416.2 526.2,420" />
<path class="l" d="M563,370 C560.2,371.9 551.0,376.2 546.2,381.2 C541.4,386.2 536.4,392.9 534,400 C531.6,407.1 532.3,419.6 532,423.5" />
<path class="t" d="M541.2,378 L546.2,381.2" />
<path class="w" d="M557.5,400 C560.2,397.1 566.2,396.7 570,395 C573.8,393.3 575.8,391.2 580,390 C584.2,388.8 590.8,386.7 595,387.5 C599.2,388.3 602.8,391.2 605,395 C607.2,398.8 606.4,405.8 608,410 C609.6,414.2 613.7,416.7 614.5,420 C615.3,423.3 615.0,427.9 613,430 C611.0,432.1 604.7,430.8 602.5,432.5 C600.3,434.2 602.1,438.1 600,440.5 C597.9,442.9 594.2,445.1 590,446.8 C585.8,448.6 579.4,451.3 575,451 C570.6,450.7 566.7,447.7 563.8,445 C560.9,442.3 557.9,439.2 557.5,435 C557.1,430.8 561.8,423.8 561.2,420 C560.6,416.2 554.4,415.8 553.8,412.5 C553.2,409.2 554.8,402.9 557.5,400Z" />
<path class="t" d="M565,402.5 C566.7,398.8 572.0,398.8 576.2,397.5 C580.4,396.2 586.0,394.6 590,395 C594.0,395.4 597.7,397.1 600,400 C602.3,402.9 603.0,408.3 603.8,412.5 C604.6,416.7 606.0,421.1 605,425 C604.0,428.9 600.8,433.1 597.5,436.2 C594.2,439.3 589.2,442.4 585,443.8 C580.8,445.2 575.8,446.0 572.5,444.5 C569.2,443.0 566.0,439.1 565,435 C564.0,430.9 566.2,425.4 566.2,420 C566.2,414.6 563.3,406.2 565,402.5Z" />
<ellipse class="l" cx="583" cy="420.5" rx="17" ry="22" transform="rotate(28 583 420.5)"/>
<ellipse class="t" cx="582.5" cy="421" rx="11" ry="15" transform="rotate(28 582.5 421)"/>
<ellipse class="t" cx="581.5" cy="421.5" rx="6" ry="9.5" transform="rotate(28 581.5 421.5)"/>
<circle class="l" cx="563.8" cy="410.5" r="2.8"/>
<circle class="l" cx="607" cy="427" r="2.8"/>
<circle class="t" cx="576.2" cy="414.5" r="2.2"/>
<path d="M359.5,255 C359.4,250.8 356.8,237.4 359,230 C361.2,222.6 366.5,214.8 372.5,210.5 C378.5,206.2 387.5,204.2 395,204 C402.5,203.8 410.0,205.6 417.5,209 C425.0,212.4 432.9,218.2 440,224.5 C447.1,230.8 454.6,239.8 460,247 C465.4,254.2 470.4,264.5 472.5,268" fill="none" stroke="#111" stroke-width="8.725" stroke-linecap="butt" stroke-linejoin="round"/>
<path d="M359.5,255 C359.4,250.8 356.8,237.4 359,230 C361.2,222.6 366.5,214.8 372.5,210.5 C378.5,206.2 387.5,204.2 395,204 C402.5,203.8 410.0,205.6 417.5,209 C425.0,212.4 432.9,218.2 440,224.5 C447.1,230.8 454.6,239.8 460,247 C465.4,254.2 470.4,264.5 472.5,268" fill="none" stroke="#fff" stroke-width="4.675" stroke-linecap="butt" stroke-linejoin="round"/>
<path d="M475.8,276.2 C478.2,280.6 484.3,293.4 490,302.5 C495.7,311.6 502.5,321.7 510,330.5 C517.5,339.3 530.0,351.0 535,355.5 C540.0,360.0 534.2,354.4 540,357.5 C545.8,360.6 560.6,368.9 570,373.8 C579.4,378.7 591.8,384.8 596.2,387" fill="none" stroke="#111" stroke-width="8.725" stroke-linecap="butt" stroke-linejoin="round"/>
<path d="M475.8,276.2 C478.2,280.6 484.3,293.4 490,302.5 C495.7,311.6 502.5,321.7 510,330.5 C517.5,339.3 530.0,351.0 535,355.5 C540.0,360.0 534.2,354.4 540,357.5 C545.8,360.6 560.6,368.9 570,373.8 C579.4,378.7 591.8,384.8 596.2,387" fill="none" stroke="#fff" stroke-width="4.675" stroke-linecap="butt" stroke-linejoin="round"/>
<path class="w" d="M592.5,383.8 L602.5,388.8 L605.5,393 L596.2,388Z" />
<path class="l" d="M360,254 L361,266" />
<path class="t" d="M362.5,254 L365,266" />
<path class="w" d="M346.5,276 L351.7,268.8 L373.5,259.5 L380.2,261 L381.3,262.8 L378.9,295.5 L357.3,308.2 L350.2,306Z" />
<path class="t" d="M351.7,268.8 L358.2,272.2 L352.5,275.5 L346.5,276" />
<path class="t" d="M358.2,272.2 L373.5,265.8 L373.5,259.5" />
<path class="t" d="M352.5,275.5 L354,304.5" />
<path class="l" d="M358.5,277.5 L357.3,308.2" />
<path class="l" d="M373.8,265.8 L375,294.3" />
<path class="l" d="M358.5,291 L374.7,285" />
<path class="t" d="M358.8,285 L374.4,278.7" />
<path class="t" d="M378.3,262.5 L377.7,295.8" />
<path class="t" d="M360.7,272.4 L361,285" />
<path d="M630,444.2 L677.5,470" fill="none" stroke="#111" stroke-width="9.025" stroke-linecap="butt" stroke-linejoin="round"/>
<path d="M630,444.2 L677.5,470" fill="none" stroke="#fff" stroke-width="4.975" stroke-linecap="butt" stroke-linejoin="round"/>
<ellipse class="w" cx="677.5" cy="470" rx="2.2" ry="4.2" transform="rotate(28 677.5 470)"/>
<path class="l" d="M627.5,447 L631.2,441" />
<path class="t" d="M632.5,448 L642.5,453" />
<path class="dd" d="M467,353.2 L627,442" style="stroke-dasharray:30 4 3 4"/>
<path class="ld" d="M426,353 V384" />
<path class="ld" d="M518.7,422 V468" />
<path class="ld" d="M656.5,404 V448" />
</g>
<g>
<path class="w" d="M203,569.8 L307,541.5 L322.5,537.5 L326.5,540 L347.5,590 L346.5,595.5 L340,602.5 L323,608 L321,604.5 L213,631" />
<path class="w" d="M213,631 C211.9,629.6 208.6,626.8 206.2,622.5 C203.8,618.2 200.5,611.2 198.8,605 C197.1,598.8 196.2,590.3 196.2,585 C196.2,579.7 197.7,575.5 198.8,573 C199.9,570.5 202.3,570.3 203,569.8" />
<path class="t" d="M203,569.8 C204.2,571.9 207.6,576.6 210,582.5 C212.4,588.4 215.9,597.9 217.5,605 C219.1,612.1 219.2,621.7 219.5,625" />
<path class="wt" d="M203.8,588.8 C201.5,588.4 197.9,589.3 196.2,591.2 C194.5,593.1 193.6,596.7 193.8,600 C194.0,603.3 195.6,608.5 197.5,611.2 C199.4,613.9 202.7,615.8 205,616.2 C207.3,616.6 209.9,615.7 211.2,613.8 C212.5,611.9 213.2,608.3 213,605 C212.8,601.7 211.5,596.5 210,593.8 C208.5,591.1 206.1,589.2 203.8,588.8Z" />
<path class="t" d="M205,616.2 L208,623" />
<path class="l" d="M279.5,552 C280.8,554.6 285.1,561.2 287,567.5 C288.9,573.8 290.6,582.9 291.2,590 C291.8,597.1 290.6,606.7 290.5,610" />
<path class="l" d="M286.2,550.8 C287.7,553.6 292.8,561.4 295,567.5 C297.2,573.6 298.7,580.8 299.5,587.5 C300.3,594.2 299.9,604.6 300,608" />
<path class="t" d="M317.5,550 C318.9,552.5 323.5,559.2 326.2,565 C328.9,570.8 332.1,579.8 333.8,585 C335.5,590.2 335.8,594.3 336.2,596.2" />
<path class="t" d="M320,548.8 C321.5,551.5 326.1,559.2 328.8,565 C331.5,570.8 334.5,578.8 336.2,583.8 C337.9,588.8 338.4,593.1 338.8,595" />
<path class="t" d="M320,608 L321.2,600 L336.2,596.2 L346.2,595" />
<circle class="k" cx="334.5" cy="588.8" r="1.5"/>
<path class="t" d="M217.5,626.2 L325,600" stroke-dasharray="14 5"/>
<path class="w" d="M303,541.2 C303.3,539.3 305.2,536.7 307.5,535.5 C309.8,534.3 314.6,533.3 317,534 C319.4,534.7 321.3,537.4 322,539.5 C322.7,541.6 322.5,544.8 321,546.5 C319.5,548.2 315.6,549.4 313,549.5 C310.4,549.6 307.2,548.4 305.5,547 C303.8,545.6 302.7,543.1 303,541.2Z" />
<path class="w" d="M312,539.5 L318,537.5 L321.5,542.5 L319.5,548 L314,549.5 L311.5,545Z" />
<path class="t" d="M318,537.5 L316.5,543 L311.5,545" />
<path class="t" d="M316.5,543 L319.5,548" />
<path d="M311.2,544.5 L280,551.5 L260,556.8" fill="none" stroke="#111" stroke-width="7.225" stroke-linecap="butt" stroke-linejoin="round"/>
<path d="M311.2,544.5 L280,551.5 L260,556.8" fill="none" stroke="#fff" stroke-width="3.175" stroke-linecap="butt" stroke-linejoin="round"/>
<path d="M260,556.5 C257.3,558.3 248.1,562.8 243.8,567.5 C239.6,572.2 235.8,578.3 234.5,585 C233.2,591.7 234.0,601.6 236.2,607.5 C238.4,613.4 243.3,617.1 247.5,620.5 C251.7,623.9 258.9,626.8 261.2,628" fill="none" stroke="#111" stroke-width="8.325" stroke-linecap="butt" stroke-linejoin="round"/>
<path d="M260,556.5 C257.3,558.3 248.1,562.8 243.8,567.5 C239.6,572.2 235.8,578.3 234.5,585 C233.2,591.7 234.0,601.6 236.2,607.5 C238.4,613.4 243.3,617.1 247.5,620.5 C251.7,623.9 258.9,626.8 261.2,628" fill="none" stroke="#fff" stroke-width="4.275" stroke-linecap="butt" stroke-linejoin="round"/>
<path d="M269,632 C271.0,634.2 278.2,640.3 281.2,645 C284.2,649.7 285.9,655.4 287,660 C288.1,664.6 287.8,670.4 288,672.5" fill="none" stroke="#111" stroke-width="8.325" stroke-linecap="butt" stroke-linejoin="round"/>
<path d="M269,632 C271.0,634.2 278.2,640.3 281.2,645 C284.2,649.7 285.9,655.4 287,660 C288.1,664.6 287.8,670.4 288,672.5" fill="none" stroke="#fff" stroke-width="4.275" stroke-linecap="butt" stroke-linejoin="round"/>
<path class="l" d="M284.5,672 L285,684" />
<path class="t" d="M290,672 L291.5,682" />
<path class="w" d="M272,687.5 L277.2,680.3 L299,671 L305.7,672.5 L306.8,674.3 L304.4,707 L282.8,719.7 L275.7,717.5Z" />
<path class="t" d="M277.2,680.3 L283.7,683.7 L278,687 L272,687.5" />
<path class="t" d="M283.7,683.7 L299,677.3 L299,671" />
<path class="t" d="M278,687 L279.5,716" />
<path class="l" d="M284,689 L282.8,719.7" />
<path class="l" d="M299.3,677.3 L300.5,705.8" />
<path class="l" d="M284,702.5 L300.2,696.5" />
<path class="t" d="M284.3,696.5 L299.9,690.2" />
<path class="t" d="M303.8,674 L303.2,707.3" />
<path class="t" d="M286.2,683.9 L286.5,696.5" />
<path class="w" d="M147.74,639.248 Q150.375,636.91 153.815,637.668 Q156.45,635.33 159.89,636.089 Q162.525,633.751 165.965,634.509 Q168.6,632.171 172.04,632.93 Q174.675,630.592 178.116,631.35 Q180.75,629.012 184.191,629.771 L187.547,630.758 L188.453,634.242 L186.002,636.739 Q183.367,639.077 179.927,638.319 Q177.292,640.657 173.852,639.898 Q171.217,642.236 167.777,641.478 Q165.142,643.816 161.702,643.057 Q159.067,645.395 155.627,644.637 Q152.992,646.975 149.552,646.216Z" />
<path class="t" d="M153.815,637.668 L154.466,644.939" />
<path class="t" d="M159.89,636.089 L160.541,643.359" />
<path class="t" d="M165.965,634.509 L166.616,641.78" />
<path class="t" d="M172.04,632.93 L172.691,640.2" />
<path class="t" d="M178.116,631.35 L178.766,638.621" />
<path class="t" d="M184.191,629.771 L184.841,637.041" />
<path class="w" d="M135.358,635.338 L146.004,632.57 L151.288,652.894 L140.642,655.662Z" />
<ellipse class="w" cx="148.646" cy="642.732" rx="5.25" ry="10.5" transform="rotate(-14.5742 148.646 642.732)"/>
<path d="M135.584,636.209 L146.23,633.441 L151.062,652.023 L140.416,654.791 Z" fill="#fff" stroke="none"/>
<path class="l" d="M135.358,635.338 L146.004,632.57" />
<path class="l" d="M140.642,655.662 L151.288,652.894" />
<ellipse class="w" cx="138" cy="645.5" rx="5.67" ry="10.5" transform="rotate(-14.5742 138 645.5)"/>
<circle class="t" cx="139.5" cy="645" r="2.6"/>
<path class="w" d="M357.053,711.112 Q354.374,714.416 350.149,714.918 Q347.47,718.222 343.245,718.724 Q340.566,722.028 336.341,722.53 Q333.662,725.834 329.438,726.336 L325.905,726.142 L324.095,722.858 L325.817,719.768 Q328.496,716.463 332.721,715.962 Q335.4,712.657 339.624,712.156 Q342.304,708.852 346.528,708.35 Q349.208,705.046 353.432,704.544Z" />
<path class="t" d="M350.149,714.918 L347.579,707.77" />
<path class="t" d="M343.245,718.724 L340.675,711.576" />
<path class="t" d="M336.341,722.53 L333.772,715.382" />
<path class="t" d="M329.438,726.336 L326.868,719.188" />
<ellipse class="w" cx="356.556" cy="707.104" rx="7.28" ry="13" transform="rotate(151.133 356.556 707.104)"/>
<ellipse class="w" cx="358.308" cy="706.138" rx="7.28" ry="13" transform="rotate(151.133 358.308 706.138)"/>
<path class="w" d="M368.104,710.444 L361.973,713.823 L353.766,698.936 L359.896,695.556Z" />
<ellipse class="w" cx="357.87" cy="706.379" rx="4.25" ry="8.5" transform="rotate(151.133 357.87 706.379)"/>
<path d="M367.669,709.656 L361.539,713.035 L354.201,699.724 L360.331,696.344 Z" fill="#fff" stroke="none"/>
<path class="l" d="M368.104,710.444 L361.973,713.823" />
<path class="l" d="M359.896,695.556 L353.766,698.936" />
<ellipse class="w" cx="364" cy="703" rx="4.59" ry="8.5" transform="rotate(151.133 364 703)"/>
<path class="dd" d="M188,631.2 L427.8,566.4" style="stroke-dasharray:18 5"/>
<path class="ld" d="M259.5,505 V550" />
<path class="ld" d="M156.2,588 V630" />
<path class="ld" d="M336,663.5 V708" />
</g>
<g>
<path class="w" d="M47.5,1131.9 C50.6,1135.8 60.7,1136.0 68.2,1138 C75.7,1140.0 88.7,1141.7 97.5,1145.3 C106.3,1148.9 115.7,1155.4 126.7,1162.3 C137.7,1169.2 161.1,1185.9 170.6,1191.6 C180.1,1197.3 180.9,1196.8 190,1200.5 C199.1,1204.2 219.4,1210.8 231.4,1216.5 C243.4,1222.2 260.1,1231.6 269.7,1238.8 C279.3,1246.0 288.0,1257.6 295.2,1264.3 C302.4,1271.0 312.7,1279.6 317.5,1283.4 C322.3,1287.2 322.2,1288.0 327,1289.8 C331.8,1291.6 343.1,1294.2 349.3,1295.2 C355.5,1296.2 361.8,1296.9 368.5,1296.2 C375.2,1295.5 387.8,1291.6 394,1290.4 C400.2,1289.2 407.1,1287.8 410,1288.2 C412.9,1288.6 412.8,1288.5 413.5,1293 C414.2,1297.5 415.2,1311.3 414.7,1318.5 C414.2,1325.7 413.1,1335.8 410,1340.8 C406.9,1345.8 401.2,1349.4 394,1352 C386.8,1354.6 373.5,1358.3 362,1358.3 C350.5,1358.3 331.3,1355.6 317.5,1352 C303.7,1348.4 284.0,1340.1 269.7,1334.4 C255.4,1328.7 233.9,1318.5 221.9,1313.7 C209.9,1308.9 199.7,1306.2 190,1302.5 C180.3,1298.8 170.3,1295.4 157.5,1289 C144.7,1282.6 118.9,1268.0 104.8,1260 C90.7,1252.0 73.6,1243.1 63.4,1235.4 C53.2,1227.7 42.7,1216.3 36.5,1208.6 C30.3,1200.9 25.0,1191.0 22,1184 C19.0,1177.0 17.3,1168.9 16.6,1162 C15.9,1155.1 16.5,1145.7 17.5,1138 C18.5,1130.3 20.9,1117.6 23,1111 C25.1,1104.4 28.4,1098.0 31.7,1094 C35.0,1090.0 42.5,1084.7 45,1084.4 C47.5,1084.1 47.8,1087.6 48.2,1091.7 C48.6,1095.8 47.9,1106.0 47.8,1112 C47.7,1118.0 44.4,1128.0 47.5,1131.9Z" />
<path class="l" d="M24.4,1108.7 C25.2,1110.8 27.1,1117.8 29.2,1121 C31.3,1124.2 34.0,1126.2 37,1128 C40.0,1129.8 45.8,1131.2 47.5,1131.9" />
<path class="t" d="M48.7,1156.2 C52.8,1160.5 62.9,1172.7 73,1181.8 C83.2,1190.9 97.2,1203.1 109.6,1211 C122.0,1218.9 141.1,1226.2 147.4,1229.3" />
<path class="t" d="M182.7,1248.8 C186.4,1250.4 192.9,1253.9 204.7,1258.6 C216.5,1263.3 235.7,1269.7 253.7,1277 C271.7,1284.3 302.9,1298.2 312.7,1302.5" />
<path class="w" d="M151.4,1018.1 L197.6,995.8 L197.6,978.2 L232.7,960.7 L242.2,959.1 L436.6,1070.7 L438.2,1091.4 L439.8,1118.5 L355.4,1163.1 L349,1175.8 L151.4,1061.1Z" />
<path class="l" d="M197.6,978.2 L232.7,960.7" />
<path class="l" d="M232.7,960.7 L430.3,1075.4 L436.6,1070.7" />
<path class="t" d="M232.7,960.7 L235.9,968.7" />
<path class="l" d="M197.6,978.2 L268.4,1021.3" />
<path class="l" d="M197.6,995.8 L232.7,1016.5" />
<path class="l" d="M430.3,1075.4 L363.3,1105.7 L259.1,1045.2 L237.5,1057.9 L237.5,1073.8 L349.6,1136.9" />
<path class="l" d="M363.3,1105.7 L363.3,1122.3 L438.2,1091.4" />
<path class="l" d="M363.3,1122.3 L349.6,1131.2 L349.6,1136.9 L349,1175.8" />
<path class="t" d="M430.3,1075.4 L430.3,1080.2 L437.6,1080.2" />
<path class="l" d="M237.5,1057.9 L215.2,1049.9 L151.4,1018.1" />
<path class="t" d="M151.4,1053.1 L347.4,1167.9" />
<path class="t" d="M352.2,1144 L438.9,1105.7" />
<path class="l" d="M355.4,1163.1 L355.4,1174.2 L349,1175.8" />
<path class="l" d="M355.4,1174.2 L388.8,1156.7 L396.8,1147.1 L387.2,1144" />
<path class="t" d="M396.8,1147.1 L439.8,1128 L439.8,1118.5" />
<path class="w" d="M240.7,1012.7 L269.3,1022.2 L221.5,1049.9 L205.6,1037.2Z" />
<path class="t" d="M226.3,1043.6 L237.5,1049.9 L259.8,1035.6" />
<path class="l" d="M161,1014.9 L178.5,1007.6 L191.3,1014.6 L173.7,1022.5Z" />
<path class="t" d="M178.5,1007.6 L178.5,1013.3 L185.5,1017.1" />
<path class="l" d="M173.7,1023.5 L192.2,1015.8 L205,1022.9 L186.5,1031.1Z" />
<path class="t" d="M192.2,1015.8 L192.2,1021.6 L199.2,1025.4" />
<path class="l" d="M186.5,1031.8 L205.6,1023.5 L218.3,1030.5 L199.2,1039.4Z" />
<path class="t" d="M205.6,1023.5 L205.6,1029.2 L212.6,1033.1" />
<path class="l" d="M246.4,1073.8 L259,1065 L274.8,1074.3 L262.8,1083.9Z" />
<path class="t" d="M259,1065 L259.4,1073.8 L267.4,1079.1" />
<path class="t" d="M259.4,1073.8 L250.6,1078" />
<path class="l" d="M271.9,1087.9 L282.2,1080.6 L295.1,1088.2 L285.3,1096.1Z" />
<path class="t" d="M282.2,1080.6 L282.6,1087.9 L289.1,1092.2" />
<path class="t" d="M282.6,1087.9 L275.3,1091.3" />
<path class="l" d="M290.4,1098.1 L299.9,1091.4 L311.9,1098.4 L302.8,1105.7Z" />
<path class="t" d="M299.9,1091.4 L300.2,1098.1 L306.3,1102" />
<path class="t" d="M300.2,1098.1 L293.6,1101.2" />
<path class="l" d="M306.6,1107 L315.8,1100.6 L327.3,1107.3 L318.6,1114.3Z" />
<path class="t" d="M315.8,1100.6 L316.1,1107 L321.9,1110.8" />
<path class="t" d="M316.1,1107 L309.7,1110" />
<path class="l" d="M321.9,1115.6 L330.7,1109.4 L341.7,1115.9 L333.4,1122.6Z" />
<path class="t" d="M330.7,1109.4 L331,1115.6 L336.6,1119.3" />
<path class="t" d="M331,1115.6 L324.9,1118.5" />
<path class="l" d="M336.3,1123.6 L344.7,1117.7 L355.2,1123.8 L347.2,1130.3Z" />
<path class="t" d="M344.7,1117.7 L345,1123.6 L350.3,1127.1" />
<path class="t" d="M345,1123.6 L339.1,1126.4" />
<path class="w" d="M181.7,1046.8 L185.5,1042.9 L194.4,1048.3 L194.4,1068.4 L187.4,1065.2 L181.7,1061.1Z" />
<path class="t" d="M187.4,1049.3 L187.4,1065.2" />
<path class="t" d="M190.6,1049.9 L190.6,1066.5" />
<path class="w" d="M219.9,1069.1 L223.8,1065.2 L232.7,1070.7 L232.7,1090.7 L225.7,1087.5 L219.9,1083.4Z" />
<path class="t" d="M225.7,1071.6 L225.7,1087.5" />
<path class="t" d="M228.9,1072.2 L228.9,1088.8" />
<path class="w" d="M302.8,1120.1 L306.6,1116.2 L315.5,1121.6 L315.5,1141.7 L308.5,1138.5 L302.8,1134.4Z" />
<path class="t" d="M308.5,1122.6 L308.5,1138.5" />
<path class="t" d="M311.7,1123.2 L311.7,1139.8" />
<path class="w" d="M334.7,1147.8 L345.8,1152.9 L345.8,1164.7 L334.7,1159.2Z" />
<path class="w" d="M124.3,1026 L133.9,1026.7 L134.9,1039.4 L125.3,1038.8Z" />
<path class="l" d="M134.9,1032.4 L148.2,1035.6" />
<path class="l" d="M134.9,1039.4 L151.4,1048.3" />
<path class="t" d="M140.3,1030.8 L141.9,1035.6" />
<ellipse class="t" cx="369.7" cy="1159.9" rx="3.6" ry="2" transform="rotate(0 369.7 1159.9)"/>
<path class="t" d="M367.5,1159.9 L367.5,1144 L372,1144" />
<path class="w" d="M480.9,1114.4 L488.4,1112.2 L508.9,1124.1 L508.9,1137.4 L480.9,1152.1Z" />
<path class="t" d="M483.1,1130.5 C483.5,1129.1 483.8,1123.9 485.2,1121.9 C486.6,1119.9 489.5,1118.5 491.7,1118.7 C493.9,1118.9 497.0,1122.3 498.1,1123" />
<path class="t" d="M488.4,1134.8 C488.8,1135.5 489.5,1138.8 490.6,1139.2 C491.7,1139.6 494.0,1138.3 494.9,1137 C495.8,1135.7 495.8,1132.5 496,1131.6" />
<path class="l" d="M483.5,1138.1 L483.5,1160.7" />
<path class="t" d="M483.5,1138.1 L489.5,1134.8" />
<path class="w" d="M434.5,1182.7 C438.2,1180.1 504.9,1139.5 508.9,1137.4 C512.9,1135.3 514.2,1140.8 514.5,1141.3 C514.8,1141.8 518.1,1145.3 514.5,1147.8 C510.9,1150.3 446.4,1189.3 442.5,1191.3 C438.6,1193.3 436.0,1189.1 435.6,1188.7 C435.2,1188.3 430.8,1185.3 434.5,1182.7Z" />
<path class="t" d="M437.8,1184.9 L512.2,1143" />
<path class="w" d="M453.3,1192 L463.6,1198.4 L463.6,1184Z" />
<path class="w" d="M453.9,1150.4 L461.9,1143.5 L472.3,1150.4 L472.3,1168.3 L455,1169.8Z" />
<path class="t" d="M453.9,1150.4 L464.7,1152.1 L472.3,1150.4" />
<path class="t" d="M464.7,1152.1 L464.7,1168.9" />
<path class="t" d="M459.3,1141.3 L468,1130.5 L472.3,1134.8" />
<path class="w" d="M478.7,1167.2 C478.7,1163.1 478.1,1131.6 478.3,1126.2 C478.5,1120.8 479.7,1115.5 480.9,1113.3 C482.1,1111.1 488.7,1106.3 490.6,1104.7 C492.5,1103.1 499.2,1099.1 500.3,1097.1 C501.4,1095.0 502.4,1086.1 501.4,1084.2 C500.4,1082.3 492.5,1078.3 490.6,1077.9 C488.7,1077.5 483.6,1079.3 482.6,1080.5 C481.6,1081.7 481.9,1087.2 480.9,1089.6 C479.9,1092.0 473.4,1101.0 472.3,1104.7 C471.2,1108.4 470.3,1120.0 470.1,1126.2 C469.9,1132.5 470.5,1163.1 470.5,1167.2" />
<ellipse class="t" cx="491.2" cy="1091.3" rx="4.5" ry="5" transform="rotate(0 491.2 1091.3)"/>
<path class="w" d="M482.6,1080.5 C480.7,1082.1 471.2,1099.3 468,1104.7 C464.8,1110.1 454.4,1129.1 450.7,1134.8 C447.0,1140.5 434.1,1158.7 431.3,1161.8 C428.5,1164.9 424.3,1163.0 423.1,1165.5 C421.9,1168.0 420.1,1184.2 419.5,1186.6 C418.9,1189.0 416.9,1189.0 416.9,1189.8 C416.9,1190.5 418.6,1193.7 419.5,1194.1 C420.4,1194.5 424.8,1194.4 425.9,1194.1 C427.0,1193.8 430.4,1193.2 430.9,1190.9 C431.4,1188.6 430.2,1174.5 431.3,1171.5 C432.4,1168.5 439.3,1164.4 442.1,1160.7 C444.9,1157.0 455.6,1140.6 459.3,1134.8 C463.0,1129.0 475.9,1107.1 478.7,1102.5 C481.5,1097.9 487.0,1090.7 487.4,1088.5 C487.8,1086.3 484.5,1078.9 482.6,1080.5Z" />
<path class="t" d="M485.6,1084.2 C484.2,1086.4 474.4,1100.5 471.2,1105.7 C468.0,1110.9 457.5,1130.2 453.9,1135.9 C450.3,1141.6 438.3,1159.8 435.6,1162.9 C432.9,1166.0 427.7,1164.6 426.6,1167.2 C425.5,1169.8 425.0,1186.5 424.8,1188.7" />
<path class="w" d="M364.869,1253.94 Q363.313,1250.3 364.956,1246.69 Q363.399,1243.05 365.042,1239.44 Q363.485,1235.8 365.128,1232.19 Q363.572,1228.55 365.215,1224.94 L367.625,1221.97 L372.375,1222.03 L374.714,1225.06 Q376.271,1228.7 374.628,1232.31 Q376.184,1235.95 374.541,1239.56 Q376.098,1243.2 374.455,1246.81 Q376.012,1250.45 374.369,1254.06Z" />
<path class="t" d="M364.956,1246.69 L374.441,1248.01" />
<path class="t" d="M365.042,1239.44 L374.527,1240.76" />
<path class="t" d="M365.128,1232.19 L374.613,1233.51" />
<path class="t" d="M365.215,1224.94 L374.7,1226.26" />
<ellipse class="w" cx="369.601" cy="1255.5" rx="7.28" ry="13" transform="rotate(-89.3179 369.601 1255.5)"/>
<ellipse class="w" cx="369.577" cy="1257.5" rx="7.28" ry="13" transform="rotate(-89.3179 369.577 1257.5)"/>
<path class="w" d="M361.001,1263.9 L361.084,1256.9 L378.083,1257.1 L377.999,1264.1Z" />
<ellipse class="w" cx="369.583" cy="1257" rx="4.25" ry="8.5" transform="rotate(-89.3179 369.583 1257)"/>
<path d="M361.901,1263.91 L361.984,1256.91 L377.183,1257.09 L377.099,1264.09 Z" fill="#fff" stroke="none"/>
<path class="l" d="M361.001,1263.9 L361.084,1256.9" />
<path class="l" d="M377.999,1264.1 L378.083,1257.1" />
<ellipse class="w" cx="369.5" cy="1264" rx="4.59" ry="8.5" transform="rotate(-89.3179 369.5 1264)"/>
<path class="ld" d="M234,1114 V1164" />
<path class="ld" d="M233,1330 V1376" />
<path class="ld" d="M488.4,1169 V1215" />
<path class="ld" d="M325.4,1234 H360.5" />
</g>
<g>
<path class="dd" d="M579.5,418 V896" style="stroke-dasharray:30 4 4 4"/>
<path class="dd" d="M579,896 L637.6,863.7 L681,884.5" style="stroke-dasharray:14 5"/>
<path class="ld" d="M580.6,899.6 L613.5,918.6" />
<path class="dd" d="M343.5,573 L444.7,545" style="stroke-dasharray:16 5"/>
<path class="dd" d="M427.8,566.4 V815.5" style="stroke-dasharray:26 4 3 4"/>
<path class="dd" d="M427.8,815.5 L478,805" style="stroke-dasharray:16 5"/>
<path class="dd" d="M322,727 L309.5,735.5 L388,780" style="stroke-dasharray:14 4"/>
<path class="dd" d="M546,936 L409.4,1017 L509,1077.5 L502.4,1083" style="stroke-dasharray:16 5"/>
<path class="dd" d="M380.7,1147.8 L414,1167" style="stroke-dasharray:14 4"/>
<path class="dd" d="M370,1160 V1219" style="stroke-dasharray:22 4 3 4"/>
<path class="dd" d="M884,690.5 L915.5,708.5 L804,775.5 L845,801" style="stroke-dasharray:16 5"/>
<path class="dd" d="M838,755 L866,772" style="stroke-dasharray:14 4"/>
<path class="w" d="M736.227,759.171 L774.177,778.146 L770.823,784.854 L732.873,765.879Z" />
<path class="t" d="M755.777,768.946 L753.765,776.325" />
<path class="t" d="M759.457,770.786 L757.445,778.165" />
<path class="t" d="M763.137,772.626 L761.125,780.005" />
<path class="t" d="M766.817,774.466 L764.805,781.845" />
<path class="t" d="M770.497,776.306 L768.485,783.685" />
<path class="w" d="M730.972,749.556 L739.022,753.581 L730.078,771.469 L722.028,767.444Z" />
<ellipse class="w" cx="734.55" cy="762.525" rx="4.4" ry="10" transform="rotate(26.5651 734.55 762.525)"/>
<path d="M730.614,750.271 L738.664,754.296 L730.435,770.754 L722.386,766.729 Z" fill="#fff" stroke="none"/>
<path class="l" d="M730.972,749.556 L739.022,753.581" />
<path class="l" d="M722.028,767.444 L730.078,771.469" />
<ellipse class="w" cx="726.5" cy="758.5" rx="5" ry="10" transform="rotate(26.5651 726.5 758.5)"/>
<path class="ld" d="M675.8,761 H716.3" />
<path class="dd" d="M774,785 L806,801" style="stroke-dasharray:14 4"/>
<path class="dd" d="M822,869 L925,924.5" style="stroke-dasharray:10 4"/>
<ellipse class="w" cx="936.5" cy="933" rx="11" ry="12" transform="rotate(0 936.5 933)"/>
<path class="w" d="M927,927 L935.5,921 L945,925 L946.5,936 L938.5,943 L928.5,938.5Z" />
<ellipse class="t" cx="935.5" cy="930" rx="4.5" ry="5" transform="rotate(0 935.5 930)"/>
<ellipse class="t" cx="935.5" cy="930" rx="2.5" ry="3" transform="rotate(0 935.5 930)"/>
<path class="t" d="M928.5,938.5 L933.5,934" />
<path class="t" d="M946.5,936 L940,931" />
<path class="w" d="M999.8,683.9 L1010.7,675.6 L1024.9,673.5 L1032.7,678.2 L1032,693.7 L1024.9,701.5 L1021,704.7 L1018.5,701.5 L1018.5,691.2 L1010.7,698.9 L1010.1,687.3 L1004.2,689.1Z" />
<path class="t" d="M1010.7,675.6 L1015.3,682.1 L1010.1,687.3" />
<path class="t" d="M1015.3,682.1 L1028.8,680.2" />
<path class="t" d="M1015.3,682.1 L1015.3,696.3" />
<path class="t" d="M1022.3,682.1 L1021.8,698.9" />
<path class="t" d="M1018.5,691.2 L1022.3,688" />
<path class="t" d="M1028.8,680.2 L1028.3,697.6 L1024.9,701.5" />
<circle cx="103" cy="655" r="1.2" fill="#333"/>
<path class="ld" d="M1021,623 V664" />
<path class="dd" d="M1022.5,707.5 V783" style="stroke-dasharray:30 5"/>
<path class="ld" d="M819,595 V644" />
</g>
<g>
<text class="n" x="426" y="412" >8</text>
<text class="n" x="656" y="394" >6</text>
<text class="n" x="518.4" y="492.8" >7</text>
<text class="n" x="260" y="496" >7</text>
<text class="n" x="155" y="578" >9</text>
<text class="n" x="337.5" y="653.5" >10</text>
<text class="n" x="819" y="590" >5</text>
<text class="n" x="1019" y="615" >4</text>
<text class="n" x="661" y="769.5" >3</text>
<text class="n" x="935.5" y="1018" >2</text>
<text class="n" x="785" y="1120" >1</text>
<text class="n" x="234.5" y="1186.2" >12</text>
<text class="n" x="488" y="1239.5" >11</text>
<text class="n" x="306.3" y="1242.6" >10</text>
<text class="n" x="234.5" y="1399.8" >13</text>
<text class="n" x="802.5" y="1069.5" textLength="65" lengthAdjust="spacing">2 - 12</text>
<path class="ld" d="M726.75,1056 V1081 H847.5 V1056" style="stroke-width:1.5"/>
<path class="ld" d="M785,1081 V1096" />
<path class="ld" d="M742.5,1004.5 V1069" />
<path class="ld" d="M935.5,950 V991" />
<circle cx="781" cy="1111.5" r="35" fill="none" stroke="#df1f1c" stroke-width="1.5"/>
</g>
</svg>
</body></html>
